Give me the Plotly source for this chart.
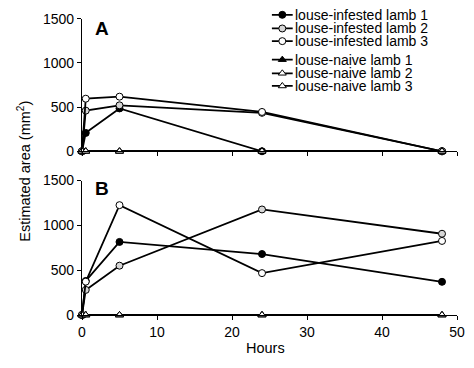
import plotly.graph_objects as go

hours = [0, 0.5, 5, 24, 48]

# Panel A values (mm^2)
a_inf1 = [0, 208, 485, 0, 0]
a_inf2 = [0, 460, 520, 435, 0]
a_inf3 = [0, 595, 618, 445, 0]
a_nai1 = [0, 0, 0, 0, 0]
a_nai2 = [0, 0, 0, 0, 0]
a_nai3 = [0, 0, 0, 0, 0]

# Panel B values (mm^2)
b_inf1 = [0, 380, 815, 680, 370]
b_inf2 = [0, 280, 550, 1177, 906]
b_inf3 = [0, 372, 1225, 467, 826]
b_nai1 = [0, 0, 0, 0, 0]
b_nai2 = [0, 0, 0, 0, 0]
b_nai3 = [0, 0, 0, 0, 0]

names = ["louse-infested lamb 1", "louse-infested lamb 2", "louse-infested lamb 3",
         "louse-naive lamb 1", "louse-naive lamb 2", "louse-naive lamb 3"]
symbols = ["circle", "circle", "circle", "triangle-up", "triangle-up", "triangle-up"]
fills = ["black", "#d6d6d6", "white", "black", "white", "white"]
y_ticks = [0, 500, 1000, 1500]
x_ticks = [0, 10, 20, 30, 40, 50]

FONT = "Liberation Sans, Arial, sans-serif"
W, H = 474, 368
ML, MR, MT, MB = 82, 17, 0, 53
PH = H - MT - MB  # plot area height in px
PW = W - ML - MR


def py(p):
    """pixel row -> paper y"""
    return (PH - p) / PH


fig = go.Figure()

panels = [
    ("x", "y", [a_inf1, a_inf2, a_inf3, a_nai1, a_nai2, a_nai3]),
    ("x2", "y2", [b_inf1, b_inf2, b_inf3, b_nai1, b_nai2, b_nai3]),
]
for xa, ya, series in panels:
    for i, vals in enumerate(series):
        fig.add_trace(go.Scatter(
            x=hours, y=vals, xaxis=xa, yaxis=ya, mode="lines+markers",
            name=names[i], showlegend=False, cliponaxis=False,
            line=dict(color="black", width=1.8),
            marker=dict(symbol=symbols[i], size=7, color=fills[i],
                        line=dict(color="black", width=1)),
        ))

# custom compact legend on an overlay axis
rows = [7, 21, 34, 53, 67, 80]
for i, r in enumerate(rows):
    fig.add_trace(go.Scatter(
        x=[0.15, 0.55, 0.95], y=[r, r, r], xaxis="x3", yaxis="y3",
        mode="lines+markers", showlegend=False, cliponaxis=False, hoverinfo="skip",
        line=dict(color="black", width=1.8),
        marker=dict(symbol=symbols[i], size=7, color=fills[i], opacity=[0, 1, 0],
                    line=dict(color="black", width=1)),
    ))
    fig.add_annotation(x=0.98, y=r, xref="x3", yref="y3", text=names[i],
                       showarrow=False, xanchor="left", yanchor="middle",
                       font=dict(family=FONT, size=14, color="black"))

axis_common = dict(showline=True, linecolor="black", linewidth=1.2, ticks="outside",
                   ticklen=4, tickcolor="black", tickwidth=1.2, showgrid=False,
                   zeroline=False, tickfont=dict(family=FONT, size=14, color="black"))

fig.update_layout(
    width=W, height=H, margin=dict(l=ML, r=MR, t=MT, b=MB),
    plot_bgcolor="white", paper_bgcolor="white", showlegend=False,
    xaxis=dict(domain=[0, 1], anchor="y", range=[0, 50], tickvals=x_ticks,
               showticklabels=False, **axis_common),
    yaxis=dict(domain=[py(147), py(11)], anchor="x", range=[0, 1500],
               tickvals=y_ticks, **axis_common),
    xaxis2=dict(domain=[0, 1], anchor="y2", range=[0, 50], tickvals=x_ticks,
                **axis_common),
    yaxis2=dict(domain=[py(315), py(177)], anchor="x2", range=[0, 1500],
                tickvals=y_ticks, **axis_common),
    xaxis3=dict(domain=[(268 - ML) / PW, (450 - ML) / PW], anchor="y3",
                range=[0, 7], visible=False),
    yaxis3=dict(domain=[py(92), 1], anchor="x3", range=[92, 0], visible=False),
)

fig.add_annotation(x=0.053, y=0.926, xref="x domain", yref="y domain", text="<b>A</b>",
                   showarrow=False, xanchor="center", yanchor="middle",
                   font=dict(family=FONT, size=19, color="black"))
fig.add_annotation(x=0.053, y=0.942, xref="x2 domain", yref="y2 domain", text="<b>B</b>",
                   showarrow=False, xanchor="center", yanchor="middle",
                   font=dict(family=FONT, size=19, color="black"))
fig.add_annotation(x=(265 - ML) / PW, y=py(349), xref="paper", yref="paper",
                   text="Hours", showarrow=False, xanchor="center", yanchor="middle",
                   font=dict(family=FONT, size=14.5, color="black"))
fig.add_annotation(x=(24 - ML) / PW, y=py(168), xref="paper", yref="paper",
                   text="Estimated area (mm<sup>2</sup>)", showarrow=False, textangle=-90,
                   xanchor="center", yanchor="middle",
                   font=dict(family=FONT, size=14.5, color="black"))

fig.write_html("out.html", config={"displayModeBar": False},
               post_script="document.body.style.margin='0';document.body.style.padding='0';")
